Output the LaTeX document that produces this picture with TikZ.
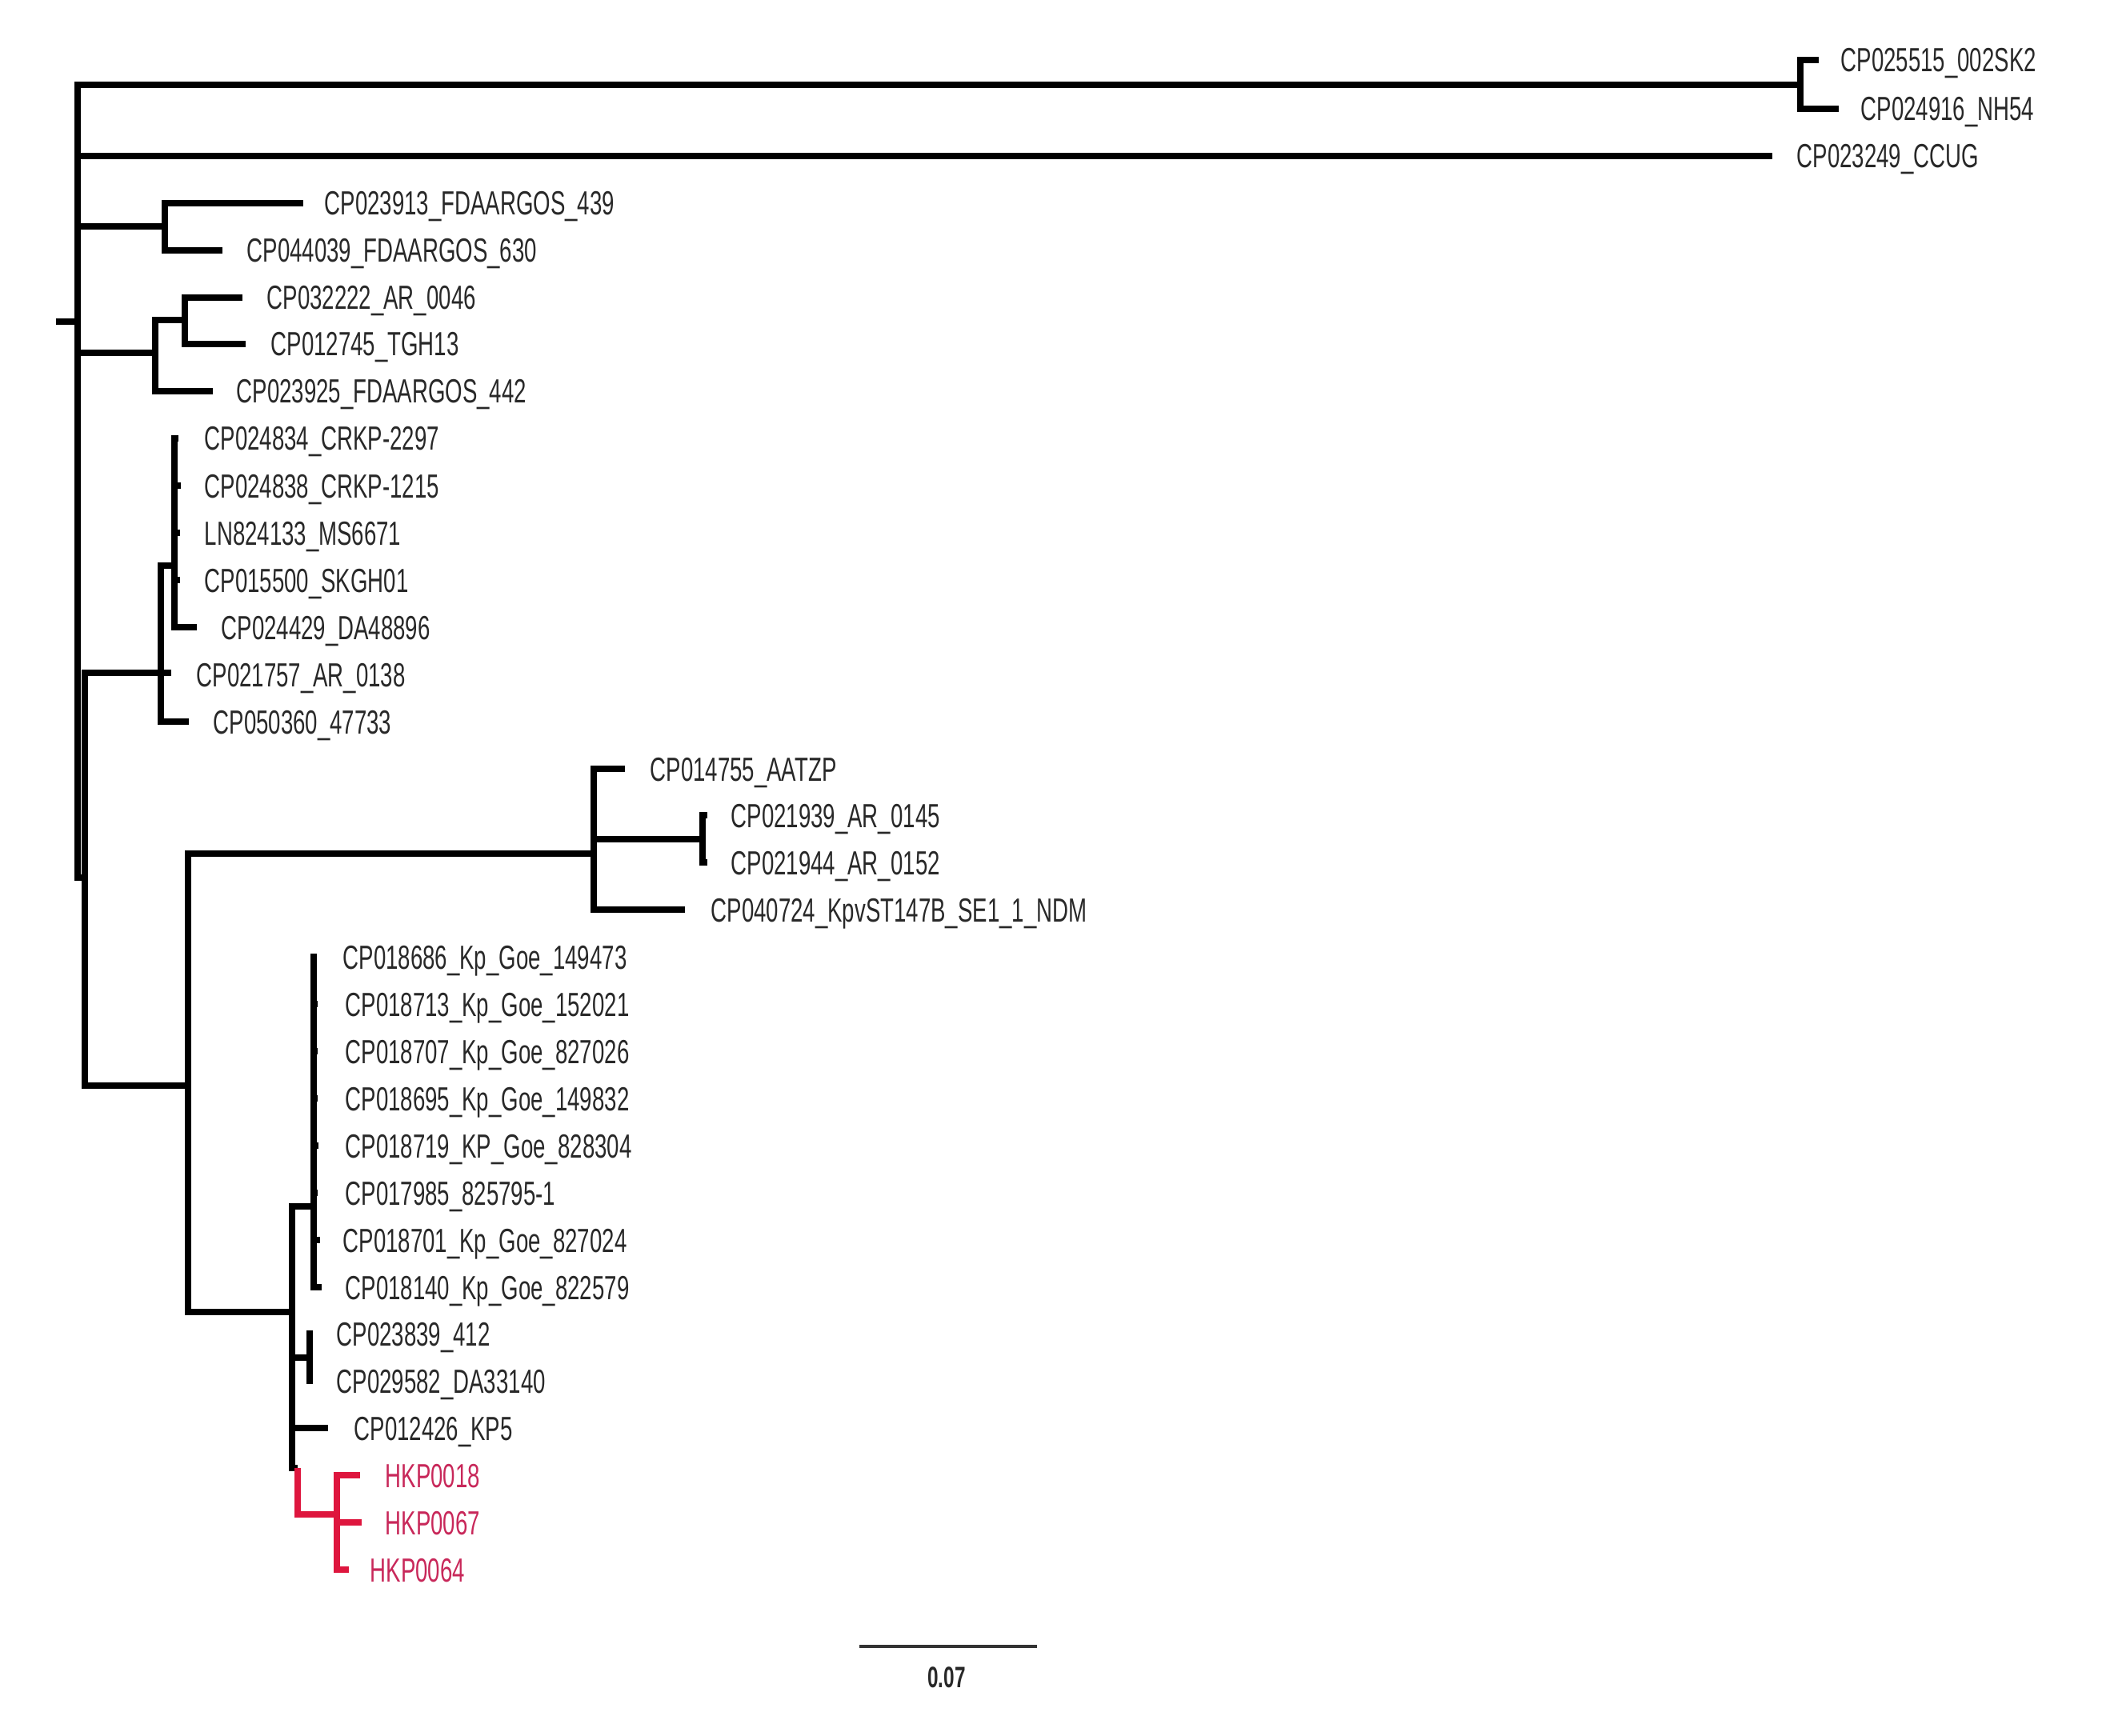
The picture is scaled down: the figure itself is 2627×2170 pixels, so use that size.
\documentclass[tikz,border=0pt]{standalone}
\usepackage{fontspec}
\setmainfont{Liberation Sans}[FakeStretch=0.66]
\definecolor{redline}{RGB}{222,22,62}
\definecolor{redtext}{RGB}{200,40,90}
\definecolor{labgray}{RGB}{40,40,40}
\begin{document}
\begin{tikzpicture}[x=0.01cm,y=-0.01cm,
  br/.style={line width=2.1pt, black},
  rbr/.style={line width=2.1pt, redline},
  lab/.style={anchor=base west, inner sep=0pt, font=\fontsize{11.9}{14}\selectfont, text=labgray},
  rlab/.style={lab, text=redtext}]
\useasboundingbox (0,0) rectangle (2627,2170);

% internal nodes
\coordinate (rootend) at (70,402);
\coordinate (R) at (97,402);
\coordinate (A) at (2250,106);
\coordinate (F) at (206,283);
\coordinate (G) at (194,441);
\coordinate (G1) at (231,400);
\coordinate (H) at (106,1097);
\coordinate (C) at (201,841);
\coordinate (C1) at (218,707);
\coordinate (B) at (235,1357);
\coordinate (D) at (742,1067);
\coordinate (D1) at (878,1049);
\coordinate (E) at (365,1640);
\coordinate (K) at (392,1508);
\coordinate (L) at (387,1697);
\coordinate (Rr) at (372,1835);
\coordinate (M) at (421,1893);

% leaf tips
\coordinate (t0) at (2273,75);
\coordinate (t1) at (2298,136);
\coordinate (t2) at (2215,195);
\coordinate (t3) at (379,254);
\coordinate (t4) at (278,313);
\coordinate (t5) at (303,372);
\coordinate (t6) at (307,430);
\coordinate (t7) at (266,489);
\coordinate (t8) at (223,548);
\coordinate (t9) at (226,607);
\coordinate (t10) at (225,666);
\coordinate (t11) at (225,725);
\coordinate (t12) at (246,784);
\coordinate (t13) at (214,841);
\coordinate (t14) at (236,902);
\coordinate (t15) at (781,961);
\coordinate (t16) at (884,1019);
\coordinate (t17) at (884,1078);
\coordinate (t18) at (856,1137);
\coordinate (t19) at (396,1196);
\coordinate (t20) at (397,1255);
\coordinate (t21) at (397,1314);
\coordinate (t22) at (397,1373);
\coordinate (t23) at (398,1432);
\coordinate (t24) at (397,1491);
\coordinate (t25) at (400,1550);
\coordinate (t26) at (402,1609);
\coordinate (t27) at (391,1667);
\coordinate (t28) at (391,1726);
\coordinate (t29) at (410,1785);
\coordinate (t30) at (450,1844);
\coordinate (t31) at (452,1903);
\coordinate (t32) at (436,1962);

% labels
\node[lab] (l0) at (2300,75+15) {CP025515\_002SK2};
\node[lab] (l1) at (2325,136+15) {CP024916\_NH54};
\node[lab] (l2) at (2245,195+15) {CP023249\_CCUG};
\node[lab] (l3) at (405,254+15) {CP023913\_FDAARGOS\_439};
\node[lab] (l4) at (308,313+15) {CP044039\_FDAARGOS\_630};
\node[lab] (l5) at (333,372+15) {CP032222\_AR\_0046};
\node[lab] (l6) at (338,430+15) {CP012745\_TGH13};
\node[lab] (l7) at (295,489+15) {CP023925\_FDAARGOS\_442};
\node[lab] (l8) at (255,548+15) {CP024834\_CRKP-2297};
\node[lab] (l9) at (255,607+15) {CP024838\_CRKP-1215};
\node[lab] (l10) at (255,666+15) {LN824133\_MS6671};
\node[lab] (l11) at (255,725+15) {CP015500\_SKGH01};
\node[lab] (l12) at (276,784+15) {CP024429\_DA48896};
\node[lab] (l13) at (245,843+15) {CP021757\_AR\_0138};
\node[lab] (l14) at (266,902+15) {CP050360\_47733};
\node[lab] (l15) at (812,961+15) {CP014755\_AATZP};
\node[lab] (l16) at (913,1019+15) {CP021939\_AR\_0145};
\node[lab] (l17) at (913,1078+15) {CP021944\_AR\_0152};
\node[lab] (l18) at (888,1137+15) {CP040724\_KpvST147B\_SE1\_1\_NDM};
\node[lab] (l19) at (428,1196+15) {CP018686\_Kp\_Goe\_149473};
\node[lab] (l20) at (431,1255+15) {CP018713\_Kp\_Goe\_152021};
\node[lab] (l21) at (431,1314+15) {CP018707\_Kp\_Goe\_827026};
\node[lab] (l22) at (431,1373+15) {CP018695\_Kp\_Goe\_149832};
\node[lab] (l23) at (431,1432+15) {CP018719\_KP\_Goe\_828304};
\node[lab] (l24) at (431,1491+15) {CP017985\_825795-1};
\node[lab] (l25) at (428,1550+15) {CP018701\_Kp\_Goe\_827024};
\node[lab] (l26) at (431,1609+15) {CP018140\_Kp\_Goe\_822579};
\node[lab] (l27) at (420,1667+15) {CP023839\_412};
\node[lab] (l28) at (420,1726+15) {CP029582\_DA33140};
\node[lab] (l29) at (442,1785+15) {CP012426\_KP5};
\node[rlab] (l30) at (481,1844+15) {HKP0018};
\node[rlab] (l31) at (481,1903+15) {HKP0067};
\node[rlab] (l32) at (462,1962+15) {HKP0064};

% branches
\draw[br] (rootend) -- (R);
\draw[br] (R) |- (A);
\draw[br] (R) |- (t2);
\draw[br] (R) |- (F);
\draw[br] (R) |- (G);
\draw[br] (R) |- (H);
\draw[br] (A) |- (t0);
\draw[br] (A) |- (t1);
\draw[br] (F) |- (t3);
\draw[br] (F) |- (t4);
\draw[br] (G) |- (G1);
\draw[br] (G) |- (t7);
\draw[br] (G1) |- (t5);
\draw[br] (G1) |- (t6);
\draw[br] (H) |- (C);
\draw[br] (H) |- (B);
\draw[br] (C) |- (C1);
\draw[br] (C) |- (t13);
\draw[br] (C) |- (t14);
\foreach \i in {8,...,12} {\draw[br] (C1) |- (t\i);}
\draw[br] (B) |- (D);
\draw[br] (B) |- (E);
\draw[br] (D) |- (t15);
\draw[br] (D) |- (D1);
\draw[br] (D) |- (t18);
\draw[br] (D1) |- (t16);
\draw[br] (D1) |- (t17);
\draw[br] (E) |- (K);
\draw[br] (E) |- (L);
\draw[br] (E) |- (t29);
\draw[br] (E) |- (Rr);
\foreach \i in {19,...,26} {\draw[br] (K) |- (t\i);}
\draw[br] (L) |- (t27);
\draw[br] (L) |- (t28);
\draw[rbr] (Rr) |- (M);
\draw[rbr] (M) |- (t30);
\draw[rbr] (M) |- (t31);
\draw[rbr] (M) |- (t32);

% scale bar
\coordinate (sb1) at (1074,2058);
\coordinate (sb2) at (1296,2058);
\draw[line width=1.2pt, black!80] (sb1) -- (sb2);
\node[inner sep=0pt, font=\fontsize{10.5}{12}\bfseries, text=labgray] (sbl) at (1183,2097) {0.07};
\end{tikzpicture}
\end{document}
